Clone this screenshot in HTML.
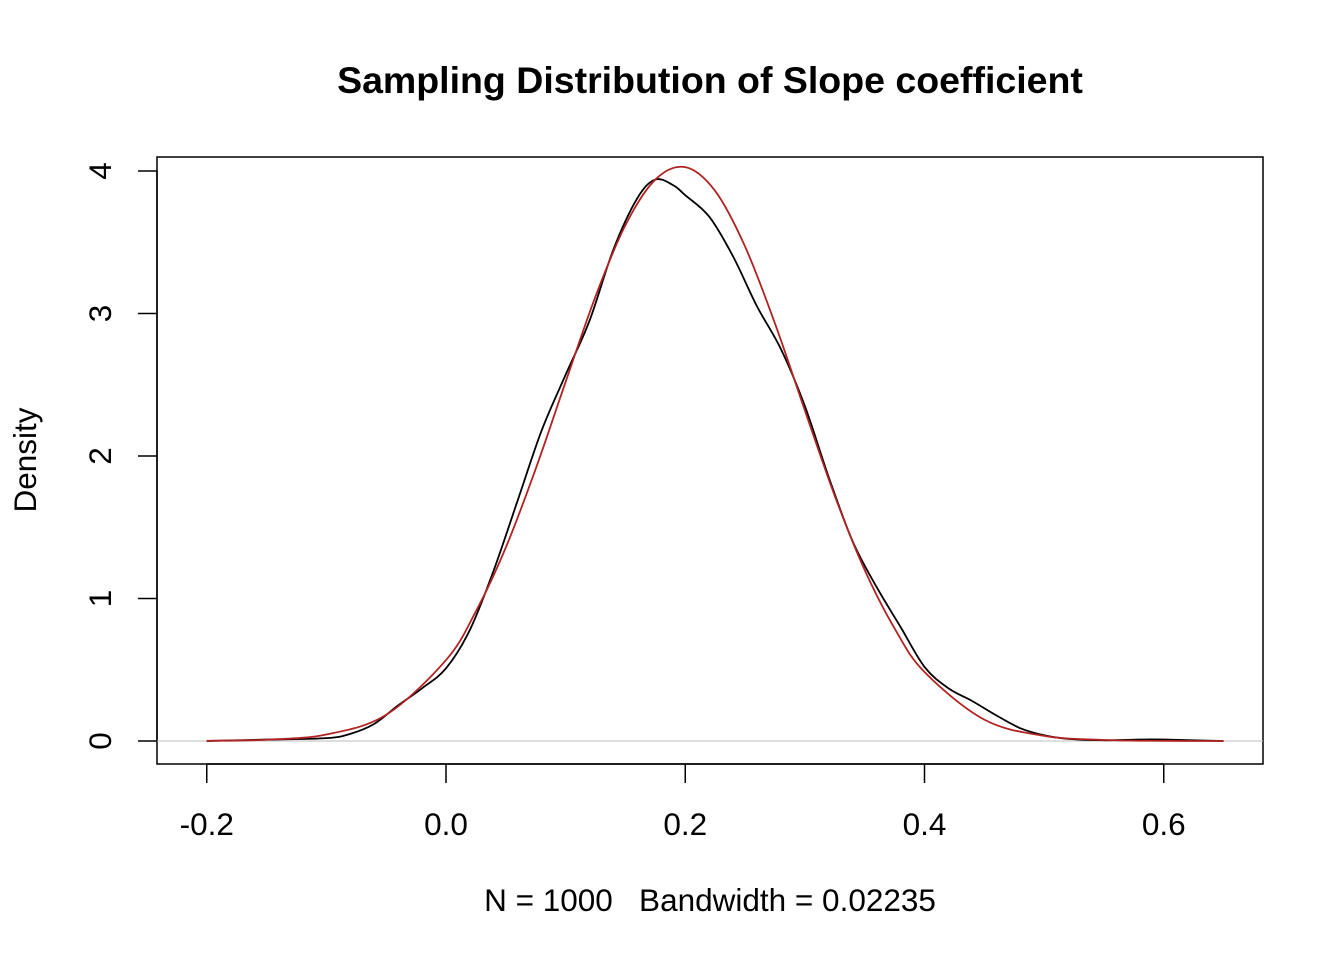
<!DOCTYPE html>
<html><head><meta charset="utf-8"><style>
body{margin:0;background:#fff;}
svg{display:block;font-family:"Liberation Sans",Arial,sans-serif;}
text{white-space:pre;}
</style></head><body>
<svg id="chart" width="1344" height="960" viewBox="0 0 1344 960">
<rect width="1344" height="960" fill="#fff"/>
<text x="710" y="93" text-anchor="middle" font-size="37.5" font-weight="bold">Sampling Distribution of Slope coefficient</text>
<rect x="157" y="157" width="1106" height="607" fill="none" stroke="#000" stroke-width="1.5"/>
<text x="710" y="911" text-anchor="middle" font-size="31.5" xml:space="preserve">N = 1000   Bandwidth = 0.02235</text>
<text transform="translate(36,460) rotate(-90)" text-anchor="middle" font-size="31.5">Density</text>
<g id="axes"></g>
<g id="series"></g>
</svg>
<script>
const xTicks=[-0.2,0.0,0.2,0.4,0.6];
const xTickLabels=["-0.2","0.0","0.2","0.4","0.6"];
const yTicks=[0,1,2,3,4];
const yTickLabels=["0","1","2","3","4"];
const kdeX=[-0.2,-0.15,-0.1,-0.08,-0.06,-0.04,-0.02,0.0,0.02,0.04,0.06,0.08,0.1,0.12,0.14,0.16,0.175,0.19,0.2,0.22,0.24,0.26,0.28,0.3,0.32,0.34,0.36,0.38,0.4,0.42,0.44,0.46,0.48,0.5,0.52,0.55,0.58,0.6,0.65];
const kdeY=[0,0.01,0.02,0.05,0.12,0.25,0.37,0.51,0.78,1.2,1.69,2.18,2.57,2.95,3.45,3.81,3.94,3.9,3.83,3.68,3.4,3.05,2.75,2.35,1.85,1.4,1.08,0.8,0.52,0.37,0.28,0.18,0.09,0.04,0.015,0.005,0.01,0.01,0];
const normX=[-0.2,-0.15,-0.1,-0.05,0,0.025,0.05,0.075,0.1,0.125,0.15,0.175,0.2,0.225,0.25,0.275,0.3,0.325,0.35,0.375,0.4,0.45,0.5,0.55,0.6,0.65];
const normY=[0.0014,0.009,0.046,0.184,0.568,0.91,1.358,1.91,2.52,3.12,3.62,3.94,4.027,3.86,3.47,2.93,2.32,1.72,1.20,0.79,0.484,0.150,0.036,0.007,0.001,0];
const X=v=>446+(v-0)*1196.25;
const Y=v=>741-v*142.5;
const NS="http://www.w3.org/2000/svg";
const axes=document.getElementById('axes'),series=document.getElementById('series');
function mk(tag,attrs,parent){const e=document.createElementNS(NS,tag);for(const k in attrs)e.setAttribute(k,attrs[k]);parent.appendChild(e);return e;}
const xl=mk('line',{x1:X(xTicks[0]),x2:X(xTicks[xTicks.length-1]),y1:764,y2:764,stroke:'#000','stroke-width':1.5},axes);


xTicks.forEach((t,i)=>{
 const l=mk('line',{x1:X(t),x2:X(t),y1:764,y2:783,stroke:'#000','stroke-width':1.5},axes);
 
 
 const tx=mk('text',{x:X(t),y:835,'text-anchor':'middle','font-size':31.5},axes);tx.textContent=xTickLabels[i];
 
 
});
const yl=mk('line',{x1:157,x2:157,y1:Y(yTicks[0]),y2:Y(yTicks[yTicks.length-1]),stroke:'#000','stroke-width':1.5},axes);


yTicks.forEach((t,i)=>{
 const l=mk('line',{x1:138,x2:157,y1:Y(t),y2:Y(t),stroke:'#000','stroke-width':1.5},axes);
 
 
 const tx=mk('text',{transform:`translate(111,${Y(t)}) rotate(-90)`,'text-anchor':'middle','font-size':31.5},axes);tx.textContent=yTickLabels[i];
 
 
});
const zl=mk('line',{x1:157,x2:1263,y1:Y(0),y2:Y(0),stroke:'#bebebe','stroke-width':1},series);


function spline(xs,ys){const p=xs.map((x,i)=>[X(x),Y(ys[i])]);let d=`M${p[0][0]},${p[0][1]}`;
 for(let i=0;i<p.length-1;i++){const p0=p[Math.max(0,i-1)],p1=p[i],p2=p[i+1],p3=p[Math.min(p.length-1,i+2)];
 d+=` C${p1[0]+(p2[0]-p0[0])/6},${p1[1]+(p2[1]-p0[1])/6} ${p2[0]-(p3[0]-p1[0])/6},${p2[1]-(p3[1]-p1[1])/6} ${p2[0]},${p2[1]}`;}return d;}
const k=mk('path',{d:spline(kdeX,kdeY),fill:'none',stroke:'#000','stroke-width':1.8},series);


const n=mk('path',{d:spline(normX,normY),fill:'none',stroke:'#b22222','stroke-width':1.8},series);


</script>
</body></html>
